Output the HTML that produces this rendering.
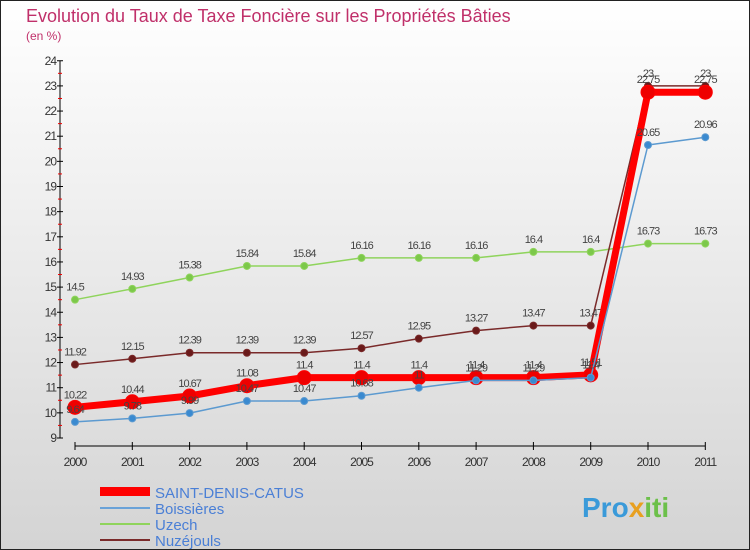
<!DOCTYPE html>
<html><head><meta charset="utf-8"><style>
body{margin:0;width:750px;height:550px;overflow:hidden;font-family:"Liberation Sans",sans-serif}
svg{display:block}
</style></head><body>
<svg id="c" width="750" height="550">
<defs><linearGradient id="bg" x1="0" y1="0" x2="0" y2="1"><stop offset="0" stop-color="#ffffff"/><stop offset="1" stop-color="#d4d4d4"/></linearGradient></defs>
<rect x="0.5" y="0.5" width="749" height="549" fill="url(#bg)" stroke="#222"/>
<text x="26" y="22" font-size="18" fill="#c0306a">Evolution du Taux de Taxe Foncière sur les Propriétés Bâties</text>
<text x="26" y="40" font-size="12" fill="#c0306a">(en %)</text>
<g id="axes"></g><g id="series"></g>
<g>
<rect x="100" y="487" width="50" height="9" fill="#ff0000"/>
<text x="155" y="498" font-size="15" fill="#4a7fd6">SAINT-DENIS-CATUS</text>
<line x1="100" y1="508" x2="150" y2="508" stroke="#6aa2d8" stroke-width="2"/>
<text x="155" y="514" font-size="15" fill="#4a7fd6">Boissières</text>
<line x1="100" y1="524" x2="150" y2="524" stroke="#8fd45c" stroke-width="2"/>
<text x="155" y="530" font-size="15" fill="#4a7fd6">Uzech</text>
<line x1="100" y1="540" x2="150" y2="540" stroke="#7a2a2a" stroke-width="2"/>
<text x="155" y="546" font-size="15" fill="#4a7fd6">Nuzéjouls</text>
</g>
<text x="582" y="517" font-size="28" font-weight="bold" fill="#3a9ad9">Pro<tspan fill="#e8a020">x</tspan><tspan fill="#6cc04a">iti</tspan></text>
</svg>
<script>
const years=["2000","2001","2002","2003","2004","2005","2006","2007","2008","2009","2010","2011"];
const yTicks=[9,10,11,12,13,14,15,16,17,18,19,20,21,22,23,24];
const saintDenis=[10.22,10.44,10.67,11.08,11.4,11.4,11.4,11.4,11.4,11.51,22.75,22.75];
const boissieres=[9.64,9.78,9.99,10.47,10.47,10.68,11,11.29,11.29,11.4,20.65,20.96];
const uzech=[14.5,14.93,15.38,15.84,15.84,16.16,16.16,16.16,16.4,16.4,16.73,16.73];
const nuzejouls=[11.92,12.15,12.39,12.39,12.39,12.57,12.95,13.27,13.47,13.47,23,23];
const NS="http://www.w3.org/2000/svg";
const X=i=>75+i*57.3;
const Y=v=>438-(v-9)*25.15;
function el(t,a,p){const e=document.createElementNS(NS,t);for(const k in a)e.setAttribute(k,a[k]);p.appendChild(e);return e;}
const ax=document.getElementById('axes');
const yl=el('line',{x1:60,y1:Y(24),x2:60,y2:Y(9),stroke:'#000'},ax);


yTicks.forEach(v=>{
 el('line',{x1:57,y1:Y(v),x2:63,y2:Y(v),stroke:'#000'},ax);
 if(v<24)el('line',{x1:58,y1:Y(v+0.5),x2:62,y2:Y(v+0.5),stroke:'#e00'},ax);
 const t=el('text',{x:56,y:Y(v)+4,'font-size':12,'text-anchor':'end',fill:'#333','letter-spacing':'-1'},ax);
 t.textContent=v;
 
 
});
const xl=el('line',{x1:X(0),y1:446,x2:X(11),y2:446,stroke:'#000'},ax);


years.forEach((y,i)=>{
 el('line',{x1:X(i),y1:442,x2:X(i),y2:450,stroke:'#000'},ax);
 const t=el('text',{x:X(i),y:466,'font-size':12,'text-anchor':'middle',fill:'#333','letter-spacing':'-1'},ax);
 t.textContent=y;
 
 
});
const sg=document.getElementById('series');
function series(vals,name,color,w,r,dot){
 const g=el('g',{},sg);
 
 
 el('polyline',{points:vals.map((v,i)=>X(i)+','+Y(v)).join(' '),fill:'none',stroke:color,'stroke-width':w,'stroke-linejoin':'round'},g);
 vals.forEach((v,i)=>{
  const c=el('circle',{cx:X(i),cy:Y(v),r:r,fill:dot,stroke:color,'stroke-width':1},g);
  
  
  const t=el('text',{x:X(i),y:Y(v)-9,'font-size':11,'text-anchor':'middle',fill:'#444','letter-spacing':'-1'},g);
  t.textContent=v;
  
  
 });
}
series(uzech,'uzech','#8fd45c',1.5,3.5,'#7cc84a');
series(nuzejouls,'nuzejouls','#7a2a2a',1.5,3.5,'#6a1a1a');
series(saintDenis,'saint-denis','#ff0000',7,7,'#ee0000');
series(boissieres,'boissieres','#5c9ad0',1.5,3.5,'#3a8ad0');
</script>
</body></html>
